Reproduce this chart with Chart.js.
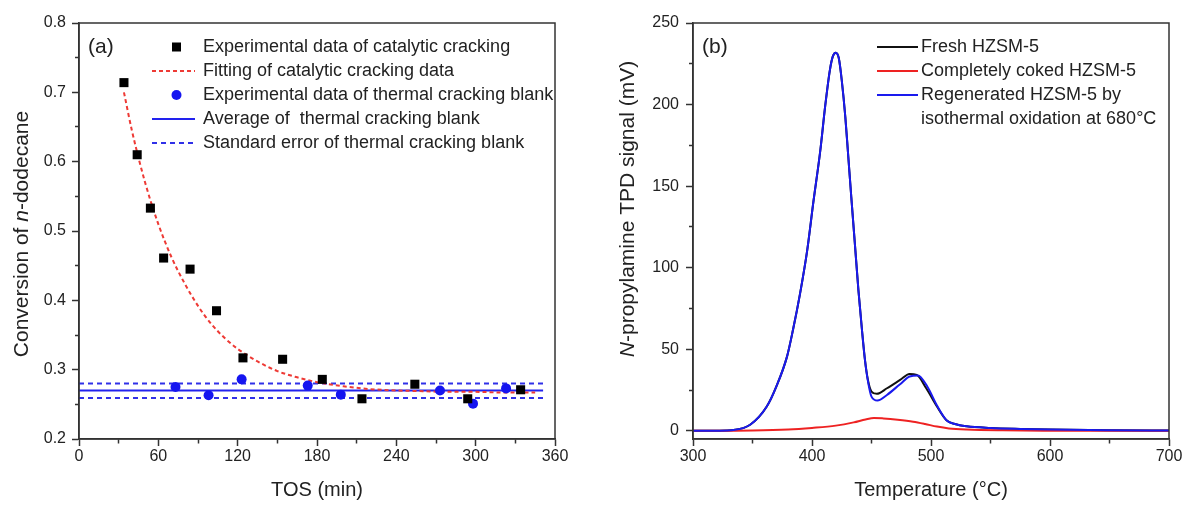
<!DOCTYPE html>
<html>
<head>
<meta charset="utf-8">
<script src="https://cdn.jsdelivr.net/npm/chart.js@4.4.1/dist/chart.umd.min.js"></script>
<style>
  html, body { margin: 0; padding: 0; background: #fff; }
  #wrap { position: relative; width: 1184px; height: 506px; }
  .panel { position: absolute; top: 0; width: 592px; height: 506px; }
</style>
</head>
<body>
<div id="wrap">
  <div class="panel" style="left:0"><canvas id="chart-a" width="592" height="506"></canvas></div>
  <div class="panel" style="left:592px"><canvas id="chart-b" width="592" height="506"></canvas></div>
</div>
<script>
// (a) conversion of n-dodecane vs time on stream
var tosCatalytic = [34, 44, 54, 64, 84, 104, 124, 154, 184, 214, 254, 294, 334];
var convCatalytic = [0.714, 0.610, 0.533, 0.461, 0.445, 0.385, 0.317, 0.315, 0.286, 0.258, 0.279, 0.258, 0.271];
var tosThermal = [73, 98, 123, 173, 198, 273, 298, 323];
var convThermal = [0.275, 0.263, 0.286, 0.277, 0.264, 0.270, 0.251, 0.273];
// fitted curve
var tosFit = [34, 40, 50, 60, 70, 80, 90, 100, 110, 120, 135, 150, 165, 180, 200, 220, 240, 260, 280, 300, 320, 345];
var convFit = [0.700, 0.645, 0.570, 0.510, 0.462, 0.424, 0.392, 0.366, 0.346, 0.330, 0.312, 0.298, 0.289, 0.282, 0.276, 0.272, 0.270, 0.269, 0.268, 0.268, 0.267, 0.267];
var blankRange = [0, 351];
var blankAvg = 0.270;
var blankSeHigh = 0.280;
var blankSeLow = 0.259;

// (b) n-propylamine TPD
var tempFresh = [300, 320, 334, 348, 362, 370, 379, 384, 390, 396, 401, 407, 411, 415, 417.5, 420, 422.5, 425, 428, 430.5, 433, 436, 439, 442, 444.5, 447, 450, 454.5, 463, 474, 482, 488, 496, 505, 513, 520, 530, 550, 575, 600, 650, 700];
var signalFresh = [0, 0.1, 0.5, 3.7, 14.9, 27.1, 45.5, 61.8, 84.3, 110.8, 139.4, 172, 198.6, 221, 229.5, 231.8, 228.5, 214.9, 192.4, 168, 143.5, 114.9, 86.3, 61.8, 43.5, 31.2, 24.1, 22.7, 26.1, 31.2, 34.9, 34.3, 26.1, 14.9, 6.5, 4.2, 2.8, 1.8, 1.2, 0.8, 0.4, 0.2];
var tempCoked = [300, 350, 380, 400, 420, 435, 445, 452, 460, 472, 485, 495, 505, 515, 530, 560, 600, 700];
var signalCoked = [0, 0.2, 0.8, 1.8, 3.2, 5.2, 7.0, 7.9, 7.6, 6.8, 5.6, 4.2, 2.6, 1.5, 0.8, 0.3, 0.1, 0];
var tempRegen = [300, 320, 334, 348, 362, 370, 379, 384, 390, 396, 401, 407, 411, 415, 417.5, 420, 422.5, 425, 428, 430.5, 433, 436, 439, 442, 444.5, 447, 450, 455, 463, 474, 482, 489, 497, 505, 513, 520, 530, 550, 575, 600, 650, 700];
var signalRegen = [0, 0.1, 0.5, 3.7, 14.9, 27.1, 45.5, 61.8, 84.3, 110.8, 139.4, 172, 198.6, 221, 229.5, 231.8, 228.5, 214.9, 192.4, 168, 143.5, 114.9, 86.3, 61.8, 43.5, 30.5, 21.0, 18.6, 22.0, 28.6, 33.3, 34.0, 27.0, 15.5, 6.5, 4.2, 2.8, 1.8, 1.2, 0.8, 0.4, 0.2];

var FONT = "'Liberation Sans', Arial, sans-serif";
var TEXT = "#222";
var AXIS = "#333";

function pts(xs, ys) {
  return xs.map(function (x, i) { return { x: x, y: ys[i] }; });
}
function flat(xs, v) {
  return xs.map(function (x) { return { x: x, y: v }; });
}
function isMajor(v, step) {
  return Math.abs(v / step - Math.round(v / step)) < 1e-6;
}

// box round the plot, panel letter, y title with italic part, legend
var panelDecor = {
  id: "panelDecor",
  afterDraw: function (chart, args, opts) {
    var ctx = chart.ctx, a = chart.chartArea;
    ctx.save();
    ctx.strokeStyle = AXIS;
    ctx.lineWidth = 1.5;
    ctx.strokeRect(a.left, a.top, a.right - a.left, a.bottom - a.top);

    ctx.fillStyle = TEXT;
    ctx.font = "21px " + FONT;
    ctx.textBaseline = "middle";
    ctx.fillText(opts.letter, a.left + 9, 47);

    // y title
    ctx.translate(opts.yTitleX, opts.yTitleY);
    ctx.rotate(-Math.PI / 2);
    var total = 0;
    opts.yTitle.forEach(function (p) {
      ctx.font = (p[1] ? "italic " : "") + "21px " + FONT;
      total += ctx.measureText(p[0]).width;
    });
    var x = -total / 2;
    opts.yTitle.forEach(function (p) {
      ctx.font = (p[1] ? "italic " : "") + "21px " + FONT;
      ctx.fillText(p[0], x, 0);
      x += ctx.measureText(p[0]).width;
    });
    ctx.restore();

    // legend
    ctx.save();
    ctx.font = "18px " + FONT;
    ctx.textBaseline = "middle";
    var x0 = a.left + opts.legendDx, y = opts.legendY;
    chart.data.datasets.forEach(function (ds) {
      if (!ds.label) return;
      var cx = x0 + opts.sampleW / 2 + 3;
      if (ds.showLine === false) {
        ctx.fillStyle = ds.backgroundColor;
        if (ds.pointStyle === "rect") {
          ctx.fillRect(cx - 4.5, y - 4.5, 9, 9);
        } else {
          ctx.beginPath();
          ctx.arc(cx, y, ds.pointRadius, 0, 2 * Math.PI);
          ctx.fill();
        }
      } else {
        ctx.strokeStyle = ds.borderColor;
        ctx.lineWidth = ds.borderWidth;
        ctx.setLineDash(ds.borderDash || []);
        ctx.beginPath();
        ctx.moveTo(x0, y);
        ctx.lineTo(x0 + opts.sampleW, y);
        ctx.stroke();
        ctx.setLineDash([]);
      }
      ctx.fillStyle = TEXT;
      var lines = ds.label.split("\n");
      lines.forEach(function (t, k) {
        ctx.fillText(t, x0 + opts.sampleW + opts.gap, y + k * opts.rowH);
      });
      y += opts.rowH * lines.length;
    });
    ctx.restore();
  }
};

function tickFont() {
  return { family: FONT, size: 16 };
}

// ---------- (a) ----------
new Chart(document.getElementById("chart-a").getContext("2d"), {
  type: "scatter",
  data: {
    datasets: [
      {
        label: "Experimental data of catalytic cracking",
        data: pts(tosCatalytic, convCatalytic),
        showLine: false,
        pointStyle: "rect",
        pointRadius: 6.4,
        pointBorderWidth: 0,
        backgroundColor: "#000",
        borderColor: "#000",
        order: 0
      },
      {
        label: "Fitting of catalytic cracking data",
        data: pts(tosFit, convFit),
        showLine: true,
        borderColor: "#ee3a35",
        borderWidth: 2,
        borderDash: [4, 3],
        pointRadius: 0,
        cubicInterpolationMode: "monotone",
        order: 2
      },
      {
        label: "Experimental data of thermal cracking blank",
        data: pts(tosThermal, convThermal),
        showLine: false,
        pointStyle: "circle",
        pointRadius: 5,
        pointBorderWidth: 0,
        backgroundColor: "#1515f0",
        borderColor: "#1515f0",
        order: 1
      },
      {
        label: "Average of  thermal cracking blank",
        data: flat(blankRange, blankAvg),
        showLine: true,
        borderColor: "#2222ee",
        borderWidth: 2,
        pointRadius: 0,
        order: 3
      },
      {
        label: "Standard error of thermal cracking blank",
        data: flat(blankRange, blankSeHigh),
        showLine: true,
        borderColor: "#3030e8",
        borderWidth: 2,
        borderDash: [5, 4],
        pointRadius: 0,
        order: 3
      },
      {
        label: "",
        data: flat(blankRange, blankSeLow),
        showLine: true,
        borderColor: "#3030e8",
        borderWidth: 2,
        borderDash: [5, 4],
        pointRadius: 0,
        order: 3
      }
    ]
  },
  options: {
    responsive: false,
    animation: false,
    layout: { padding: { top: 23, right: 37, left: 0, bottom: 0 } },
    plugins: {
      legend: { display: false },
      tooltip: { enabled: false },
      panelDecor: {
        letter: "(a)",
        yTitle: [["Conversion of ", false], ["n", true], ["-dodecane", false]],
        yTitleX: 22,
        yTitleY: 234,
        legendDx: 73,
        legendY: 47,
        sampleW: 43,
        gap: 8,
        rowH: 24
      }
    },
    scales: {
      x: {
        type: "linear",
        min: 0,
        max: 360,
        ticks: {
          stepSize: 30,
          autoSkip: false,
          maxRotation: 0,
          padding: 1,
          color: TEXT,
          font: tickFont(),
          callback: function (v) { return isMajor(v, 60) ? String(v) : ""; }
        },
        grid: {
          drawOnChartArea: false,
          tickLength: 7,
          tickWidth: 1.5,
          tickColor: AXIS,
          tickBorderDash: function (c) { return c.tick && !isMajor(c.tick.value, 60) ? [4, 100] : []; }
        },
        border: { color: AXIS, width: 1.5 },
        title: { display: true, text: "TOS (min)", color: TEXT, font: { family: FONT, size: 20 }, padding: { top: 0, bottom: 4 } },
        afterFit: function (s) { s.height = 67; }
      },
      y: {
        type: "linear",
        min: 0.2,
        max: 0.8,
        ticks: {
          stepSize: 0.05,
          autoSkip: false,
          padding: 6,
          color: TEXT,
          font: tickFont(),
          callback: function (v) { return isMajor(v, 0.1) ? v.toFixed(1) : ""; }
        },
        grid: {
          drawOnChartArea: false,
          tickLength: 7,
          tickWidth: 1.5,
          tickColor: AXIS,
          tickBorderDash: function (c) { return c.tick && !isMajor(c.tick.value, 0.1) ? [0, 3, 4, 100] : []; }
        },
        border: { color: AXIS, width: 1.5 },
        afterFit: function (s) { s.width = 79; }
      }
    }
  },
  plugins: [panelDecor]
});

// ---------- (b) ----------
new Chart(document.getElementById("chart-b").getContext("2d"), {
  type: "scatter",
  data: {
    datasets: [
      {
        label: "Fresh HZSM-5",
        data: pts(tempFresh, signalFresh),
        showLine: true,
        borderColor: "#111",
        borderWidth: 2,
        pointRadius: 0,
        cubicInterpolationMode: "monotone",
        order: 2
      },
      {
        label: "Completely coked HZSM-5",
        data: pts(tempCoked, signalCoked),
        showLine: true,
        borderColor: "#ee2222",
        borderWidth: 2,
        pointRadius: 0,
        cubicInterpolationMode: "monotone",
        order: 1
      },
      {
        label: "Regenerated HZSM-5 by\nisothermal oxidation at 680°C",
        data: pts(tempRegen, signalRegen),
        showLine: true,
        borderColor: "#1a1aee",
        borderWidth: 2,
        pointRadius: 0,
        cubicInterpolationMode: "monotone",
        order: 0
      }
    ]
  },
  options: {
    responsive: false,
    animation: false,
    layout: { padding: { top: 23, right: 15, left: 0, bottom: 0 } },
    plugins: {
      legend: { display: false },
      tooltip: { enabled: false },
      panelDecor: {
        letter: "(b)",
        yTitle: [["N", true], ["-propylamine TPD signal (mV)", false]],
        yTitleX: 36,
        yTitleY: 209,
        legendDx: 184,
        legendY: 47,
        sampleW: 41,
        gap: 3,
        rowH: 24
      }
    },
    scales: {
      x: {
        type: "linear",
        min: 300,
        max: 700,
        ticks: {
          stepSize: 50,
          autoSkip: false,
          maxRotation: 0,
          padding: 1,
          color: TEXT,
          font: tickFont(),
          callback: function (v) { return isMajor(v, 100) ? String(v) : ""; }
        },
        grid: {
          drawOnChartArea: false,
          tickLength: 7,
          tickWidth: 1.5,
          tickColor: AXIS,
          tickBorderDash: function (c) { return c.tick && !isMajor(c.tick.value, 100) ? [4, 100] : []; }
        },
        border: { color: AXIS, width: 1.5 },
        title: { display: true, text: "Temperature (°C)", color: TEXT, font: { family: FONT, size: 20 }, padding: { top: 0, bottom: 4 } },
        afterFit: function (s) { s.height = 67; }
      },
      y: {
        type: "linear",
        min: -5,
        max: 250,
        ticks: {
          stepSize: 25,
          includeBounds: false,
          autoSkip: false,
          padding: 7,
          color: TEXT,
          font: tickFont(),
          callback: function (v) { return isMajor(v, 50) ? String(v) : ""; }
        },
        grid: {
          drawOnChartArea: false,
          tickLength: 7,
          tickWidth: 1.5,
          tickColor: AXIS,
          tickBorderDash: function (c) { return c.tick && !isMajor(c.tick.value, 50) ? [0, 3, 4, 100] : []; }
        },
        border: { color: AXIS, width: 1.5 },
        afterFit: function (s) { s.width = 101; }
      }
    }
  },
  plugins: [panelDecor]
});
</script>
</body>
</html>
